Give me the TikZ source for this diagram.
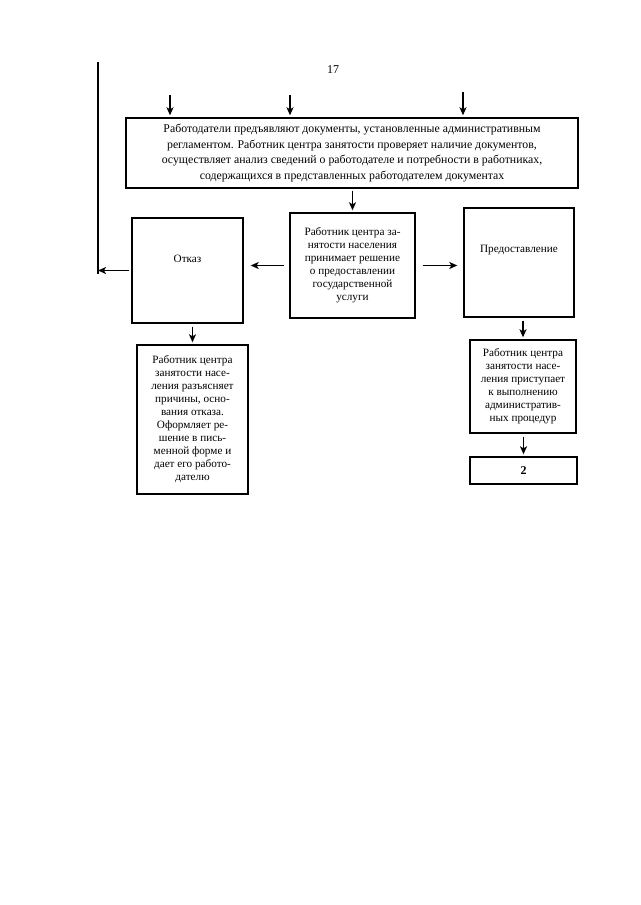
\documentclass[tikz,border=0pt]{standalone}
\usepackage{fontspec}
\setmainfont{Liberation Serif}
\usetikzlibrary{arrows.meta}
\tikzset{
  box/.style={draw,line width=1.4pt,align=center,inner sep=2pt,font=\fontsize{11.2}{13}\selectfont},
  arr/.style={line width=1.4pt,->,>={Stealth[length=8pt,width=7pt,inset=2pt]}}
}
\begin{document}
\begin{tikzpicture}[x=1pt,y=-1pt]
    \useasboundingbox (0,0) rectangle (640,905);
    \node (page) at (333,70) {\fontsize{12}{14}\selectfont 17};
%   boxes
    \node[box,minimum width=452,minimum height=70,font=\fontsize{11.8}{15.5}\selectfont] (check) at (352,153)
        {Работодатели предъявляют документы, установленные административным\\
         регламентом. Работник центра занятости проверяет наличие документов,\\
         осуществляет анализ сведений о работодателе и потребности в работниках,\\
         содержащихся в представленных работодателем документах};
    \node[box,minimum width=125,minimum height=105] (decide) at (352.5,265.5)
        {Работник центра за-\\нятости населения\\принимает решение\\о предоставлении\\государственной\\услуги};
    \node[box,minimum width=111,minimum height=105] (refuse) at (187.5,270.5) {};
    \node[font=\fontsize{11.2}{13}\selectfont] (refuse text) at ([yshift=12pt]refuse.center) {Отказ};
    \node[box,minimum width=110,minimum height=109] (grant) at (519,262.5) {};
    \node[font=\fontsize{11.2}{13}\selectfont] (grant text) at ([yshift=12pt]grant.center) {Предоставление};
    \node[box,minimum width=111,minimum height=149] (explain) at (192.5,419.5)
        {Работник центра\\занятости насе-\\ления разъясняет\\причины, осно-\\вания отказа.\\Оформляет ре-\\шение в пись-\\менной форме и\\дает его работо-\\дателю};
    \node[box,minimum width=106,minimum height=93] (proceed) at (523,386.5)
        {Работник центра\\занятости насе-\\ления приступает\\к выполнению\\административ-\\ных процедур};
    \node[box,minimum width=107,minimum height=27,font=\fontsize{12}{14}\selectfont\bfseries] (next) at (523.5,470.5) {2};
%   incoming arrows
    \coordinate (in1) at (170,95);
    \coordinate (in2) at (290,95);
    \coordinate (in3) at (463,92);
    \draw[arr,shorten >=2pt] (in1) -- (in1 |- check.north);
    \draw[arr,shorten >=2pt] (in2) -- (in2 |- check.north);
    \draw[arr,shorten >=2pt] (in3) -- (in3 |- check.north);
%   return line
    \coordinate (back top) at (98,62);
    \coordinate (back bot) at (98,274);
    \draw[line width=1.4pt] (back top) -- (back bot);
    \draw[arr,shorten <=2pt] (refuse.west) -- (refuse.west -| back bot);
%   flow
    \draw[arr,shorten <=2pt,shorten >=2pt] (check.south -| decide.north) -- (decide.north);
    \draw[arr,shorten <=5pt,shorten >=7pt] (decide.west) -- (decide.west -| refuse.east);
    \draw[arr,shorten <=7pt,shorten >=6pt] (decide.east) -- (decide.east -| grant.west);
    \draw[arr,shorten <=3pt,shorten >=2pt] (refuse.south -| explain.north) -- (explain.north);
    \draw[arr,shorten <=3pt,shorten >=2pt] (grant.south -| proceed.north) -- (proceed.north);
    \draw[arr,shorten <=3pt,shorten >=2pt] (proceed.south -| next.north) -- (next.north);
\end{tikzpicture}
\end{document}
